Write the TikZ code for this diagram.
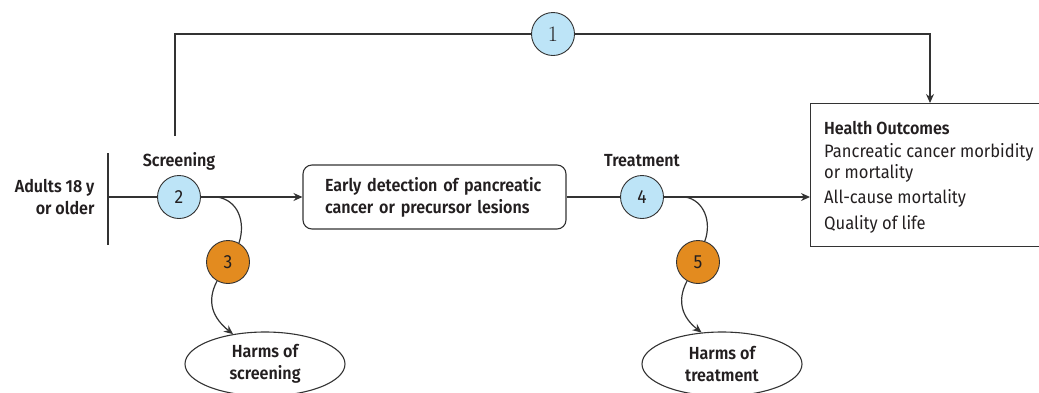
\documentclass[tikz,border=0pt]{standalone}
\usepackage{fontspec}
\setmainfont{Fira Sans}[FakeStretch=0.92, BoldFont={Fira Sans SemiBold}]
\newfontfamily\numserif{Latin Modern Roman}
\usetikzlibrary{arrows.meta,shapes.geometric}
\definecolor{txt}{HTML}{231F20}
\definecolor{lblue}{HTML}{BDE4F7}
\definecolor{orng}{HTML}{E38B1F}
\definecolor{ln}{HTML}{333333}
\tikzset{
  conn/.style={draw=ln, line width=1.2pt},
  arr/.style={conn, -{Stealth[length=9pt,width=8pt]}},
  numc/.style={circle, draw=ln, line width=0.9pt, minimum size=43pt, inner sep=0pt, text=txt, font=\fontsize{19}{20}\selectfont},
  lab/.style={text=txt, font=\fontsize{17.5}{20}\selectfont\bfseries},
  harm/.style={ellipse, draw=ln, line width=1.1pt, minimum width=160pt, minimum height=64pt, inner sep=0pt, align=center, text=txt, font=\fontsize{17.5}{22}\selectfont\bfseries},
  hotext/.style={anchor=west, text=txt, inner sep=0pt, font=\fontsize{18}{20}\selectfont},
}
\begin{document}
\begin{tikzpicture}[x=1pt,y=-1pt]
\useasboundingbox (0,0) rectangle (1039,392);
% nodes
\coordinate (bt) at (108,153);
\coordinate (bb) at (108,245);
\coordinate (bm) at (108,197);
\node[anchor=east, align=right, lab, font=\fontsize{17.5}{22}\selectfont\bfseries] (adults) at (98,197) {Adults 18 y\\or older};
\node[numc, fill=lblue] (c2) at (179,197) {2};
\node[lab] (scr) at (179,161) {Screening};
\node[numc, fill=orng] (c3) at (228,262) {3};
\node[harm] (h1) at (265,364) {Harms of\\screening};
\node[draw=ln, line width=1.1pt, rounded corners=9pt, minimum width=263pt, minimum height=64pt, text width=219pt, inner xsep=0pt, align=left, text=txt, font=\fontsize{17.5}{22}\selectfont\bfseries] (early) at (434.5,197) {Early detection of pancreatic\\cancer or precursor lesions};
\node[numc, fill=lblue] (c4) at (642,197) {4};
\node[lab] (trt) at (642,161) {Treatment};
\node[numc, fill=orng] (c5) at (698,262) {5};
\node[harm] (h2) at (722,364) {Harms of\\treatment};
\node[draw=ln, line width=1.1pt, anchor=north west, minimum width=245pt, minimum height=143pt, inner sep=0pt] (ho) at (810,103) {};
\node[hotext, font=\fontsize{17.5}{20}\selectfont\bfseries] (ho1) at (824,128) {Health Outcomes};
\node[hotext] (ho2) at (824,152) {Pancreatic cancer morbidity};
\node[hotext] (ho3) at (824,173) {or mortality};
\node[hotext] (ho4) at (824,198) {All-cause mortality};
\node[hotext] (ho5) at (824,224) {Quality of life};
\node[numc, fill=lblue, minimum size=43pt, font=\fontsize{22}{24}\numserif] (c1) at (553,34) {1};
\coordinate (p0) at (175,136);
\coordinate (s2) at (217,197);
\coordinate (s4) at (685,197);
% connectors
\draw[conn] (bt) -- (bb);
\draw[conn] (bm) -- (c2.west);
\draw[arr] (c2.east) -- (early.west);
\draw[conn] (early.east) -- (c4.west);
\draw[arr] (c4.east) -- (ho.west |- c4.east);
\draw[conn] (s2) .. controls (238,200) and (246,222) .. (c3.60);
\draw[arr] (c3.240) .. controls (206,302) and (213,318) .. (h1.137);
\draw[conn] (s4) .. controls (704,200) and (712,222) .. (c5.72);
\draw[arr] (c5.240) .. controls (676,302) and (683,318) .. (h2.123);
\draw[conn] (p0) |- (c1.west);
\draw[arr] (c1.east) -| ([xshift=120pt]ho.north west);
\end{tikzpicture}
\end{document}
